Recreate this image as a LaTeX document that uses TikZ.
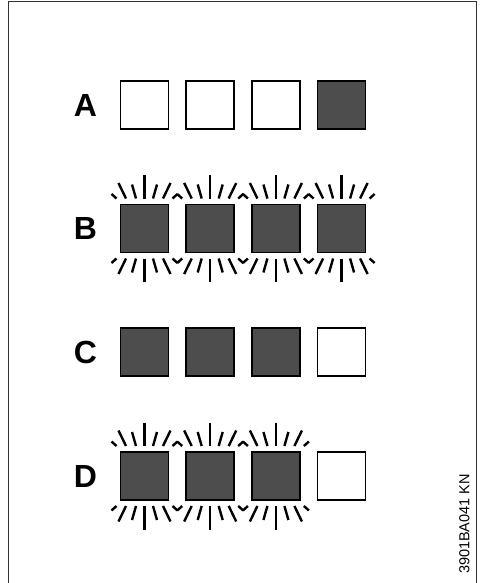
\documentclass[tikz,border=0pt]{standalone}
\usepackage{fontspec}
\setmainfont{Liberation Sans}
\definecolor{lampgray}{HTML}{4D4D4D}
\tikzset{
  lampoff/.style={draw=black, line width=1.7pt, fill=white, minimum size=48pt, inner sep=0pt},
  lampon/.style={lampoff, fill=lampgray},
  ray/.style={line width=2.4pt},
  rowtag/.style={font=\bfseries\fontsize{32}{32}\selectfont, inner sep=0pt},
  code/.style={font=\fontsize{14.5}{14.5}\selectfont, rotate=90, inner sep=0pt}
}
\begin{document}
\begin{tikzpicture}[x=1pt,y=-1pt]
  \useasboundingbox (0,0) rectangle (482,583);
  \draw[black!80, line width=1.5pt] (8.5,1.5) rectangle (476.5,600);

  % row labels
  \node[rowtag] (ta) at (85.5,105) {A};
  \node[rowtag] (tb) at (85.5,228.5) {B};
  \node[rowtag] (tc) at (85.5,352) {C};
  \node[rowtag] (td) at (85.5,476) {D};

  % lamps: row/name/state for each of the four positions
  \foreach \r/\y/\s in {a/105/{lampoff,lampoff,lampoff,lampon},
                        b/228.5/{lampon,lampon,lampon,lampon},
                        c/352/{lampon,lampon,lampon,lampoff},
                        d/476/{lampon,lampon,lampon,lampoff}} {
    \foreach \st [count=\i] in \s {
      \node[\st] (\r\i) at ({144.5+65.7*(\i-1)},\y) {};
    }
  }

  % rays round the blinking lamps
  \foreach \l in {b1,b2,b3,b4,d1,d2,d3} {
    \foreach \sg in {1,-1} {
      \foreach \xa/\ya/\xb/\yb in {-33/-34.5/-28/-30, -26/-45.5/-18.5/-30, -12.5/-44/-8.5/-30,
                                   0/-53.5/0/-30, 12.5/-44/8.5/-30, 26/-45.5/18.5/-30, 33/-34.5/28/-30} {
        \draw[ray, shift={(\l.center)}] (\xa,{\sg*\ya}) -- (\xb,{\sg*\yb});
      }
    }
  }

  \node[code] (ref) at (464.5,524) {3901BA041 KN};
\end{tikzpicture}
\end{document}
